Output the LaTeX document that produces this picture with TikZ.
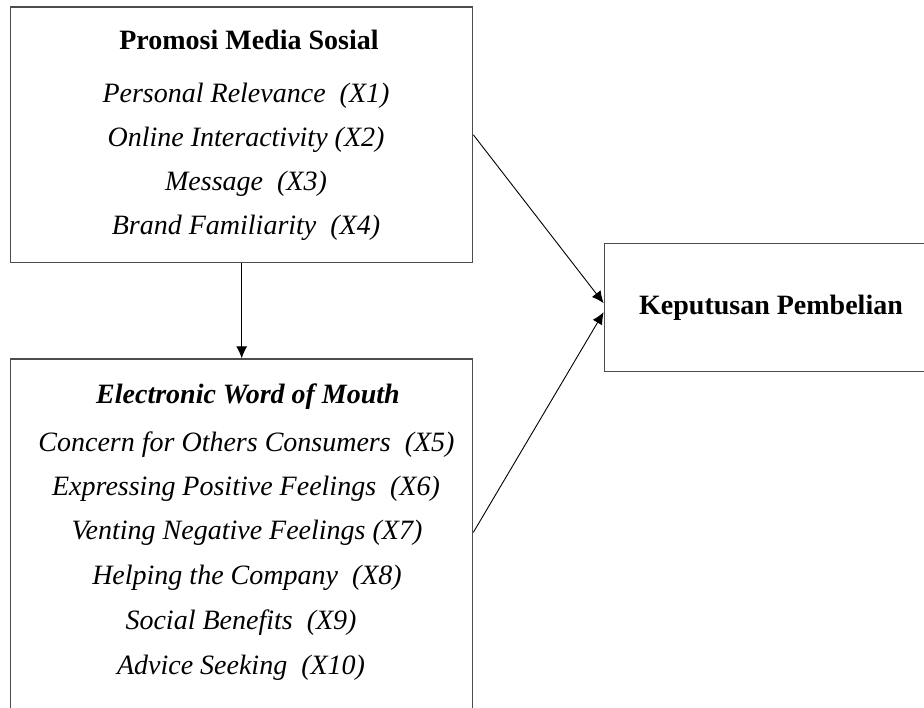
\documentclass[tikz,border=0pt]{standalone}
\usepackage{fontspec}
\setmainfont{Liberation Serif}
\usetikzlibrary{arrows.meta,calc}
\begin{document}
\begin{tikzpicture}[x=1pt,y=-1pt,
  box/.style={draw=black!70,line width=1.3pt,inner sep=0pt,fill=none},
  lbl/.style={inner sep=0pt,anchor=center,font=\fontsize{28}{34}\selectfont},
  hd/.style={lbl,font=\fontsize{28}{34}\selectfont\bfseries},
  hdi/.style={lbl,font=\fontsize{28}{34}\selectfont\bfseries\itshape},
  it/.style={lbl,font=\fontsize{28}{34}\selectfont\itshape},
  conn/.style={draw=black,line width=0.9pt,-{Latex[length=12pt,width=11pt]}}]
\useasboundingbox[clip] (0,0) rectangle (924,708);
\fill[white] (0,0) rectangle (924,708);
% boxes
\node[box,minimum width=462pt,minimum height=255.7pt] (b1) at (241.7,134.8) {};
\node[box,minimum width=462pt,minimum height=371pt] (b2) at (241.7,544.5) {};
\node[box,minimum width=336pt,minimum height=128pt] (b3) at (772.3,307.7) {};
% texts box 1
\node[hd] (t1) at (249,40) {Promosi Media Sosial};
\node[it] (x1) at (246,96) {Personal Relevance\ \ (X1)};
\node[it] (x2) at (246,140) {Online Interactivity\ (X2)};
\node[it] (x3) at (246,184) {Message\ \ (X3)};
\node[it] (x4) at (246,228) {Brand Familiarity\ \ (X4)};
% texts box 2
\node[hdi] (t2) at (248,397) {Electronic Word of Mouth};
\node[it] (x5) at (246.5,445) {Concern for Others Consumers\ \ (X5)};
\node[it] (x6) at (246,489) {Expressing Positive Feelings\ \ (X6)};
\node[it] (x7) at (247,533) {Venting Negative Feelings (X7)};
\node[it] (x8) at (247,578) {Helping the Company\ \ (X8)};
\node[it] (x9) at (241,623) {Social Benefits\ \ (X9)};
\node[it] (x10) at (241,668) {Advice Seeking\ \ (X10)};
% text box 3
\node[hd] (t3) at (771,308) {Keputusan Pembelian};
% connectors
\coordinate (s2) at ($(b2.north east)+(0,174)$);
\coordinate (e1) at ($(b3.west)+(0,-4.5)$);
\coordinate (e2) at ($(b3.west)+(0,4.5)$);
\draw[conn] (b1.south) -- (b2.north);
\draw[conn] (b1.east) -- (e1);
\draw[conn] (s2) -- (e2);
\end{tikzpicture}
\end{document}
